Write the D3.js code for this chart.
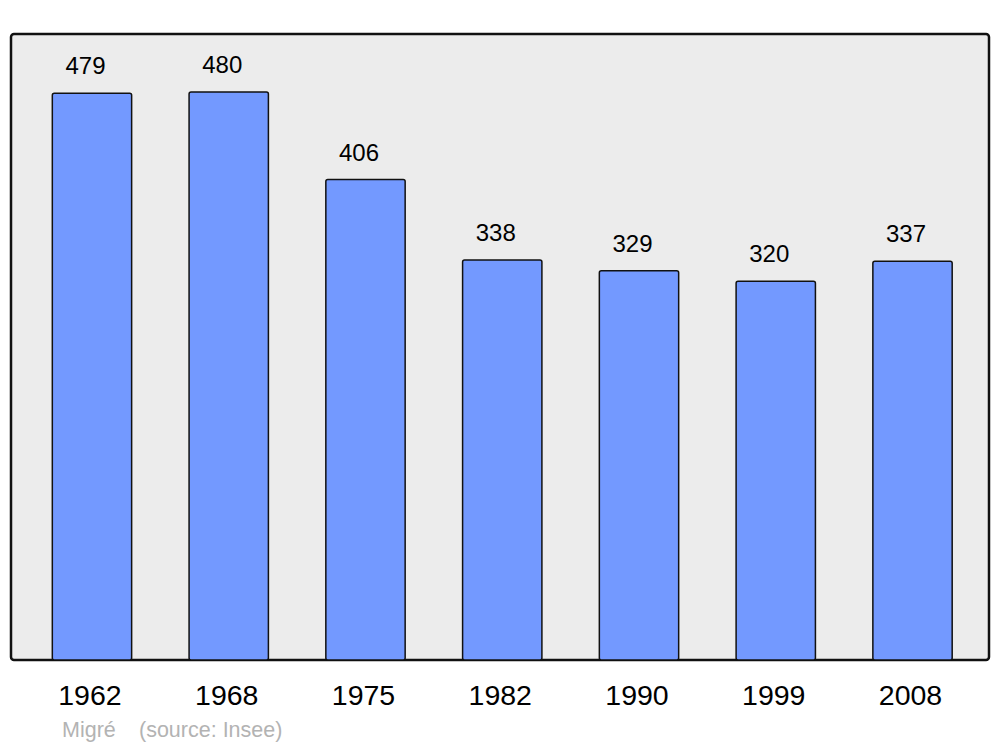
<!DOCTYPE html>
<html>
<head>
<meta charset="utf-8">
<script src="https://cdn.jsdelivr.net/npm/d3@7"></script>
<style>
  body { margin: 0; background: #fff; }
  text { font-family: "Liberation Sans", Arial, sans-serif; }
</style>
</head>
<body>
<script>
// population figures for Migré
var years = ["1962", "1968", "1975", "1982", "1990", "1999", "2008"];
var population = [479, 480, 406, 338, 329, 320, 337];
var townName = "Migré";
var sourceNote = "(source: Insee)";

var width = 1000,
    height = 747;

var svg = d3.select("body")
    .append("svg")
    .attr("width", width)
    .attr("height", height);

// grey frame
svg.append("rect")
    .attr("x", 11)
    .attr("y", 34)
    .attr("width", 978)
    .attr("height", 626)
    .attr("rx", 3)
    .attr("fill", "#ececec")
    .attr("stroke", "#111")
    .attr("stroke-width", 2.5);

var x = d3.scaleBand()
    .domain(years)
    .range([23.6, 980.9])
    .paddingInner(0.42)
    .paddingOuter(0.21);

var y = d3.scaleLinear()
    .domain([0, 480])
    .range([660, 92]);

var data = years.map(function(d, i) { return {year: d, value: population[i]}; });

svg.selectAll(".bar")
    .data(data)
    .enter().append("rect")
    .attr("class", "bar")
    .attr("x", function(d) { return x(d.year); })
    .attr("y", function(d) { return y(d.value); })
    .attr("width", x.bandwidth())
    .attr("height", function(d) { return y(0) - y(d.value); })
    .attr("rx", 2)
    .attr("fill", "#7399ff")
    .attr("stroke", "#111")
    .attr("stroke-width", 1.5);

// values above bars
svg.selectAll(".val")
    .data(data)
    .enter().append("text")
    .attr("class", "val")
    .attr("x", function(d) { return x(d.year) + x.bandwidth() / 2 - 6.5; })
    .attr("y", function(d) { return y(d.value) - 19; })
    .attr("text-anchor", "middle")
    .attr("font-size", 24)
    .attr("fill", "#000")
    .text(function(d) { return d.value; });

// year labels
svg.selectAll(".year")
    .data(data)
    .enter().append("text")
    .attr("class", "year")
    .attr("x", function(d) { return x(d.year) + x.bandwidth() / 2 - 2; })
    .attr("y", 705)
    .attr("text-anchor", "middle")
    .attr("font-size", 28.5)
    .attr("fill", "#000")
    .text(function(d) { return d.year; });

svg.append("text")
    .attr("x", 62)
    .attr("y", 737)
    .attr("font-size", 21.5)
    .attr("fill", "#b3b3b3")
    .text(townName);

svg.append("text")
    .attr("x", 139)
    .attr("y", 737)
    .attr("font-size", 21.5)
    .attr("fill", "#b3b3b3")
    .text(sourceNote);
</script>
</body>
</html>
